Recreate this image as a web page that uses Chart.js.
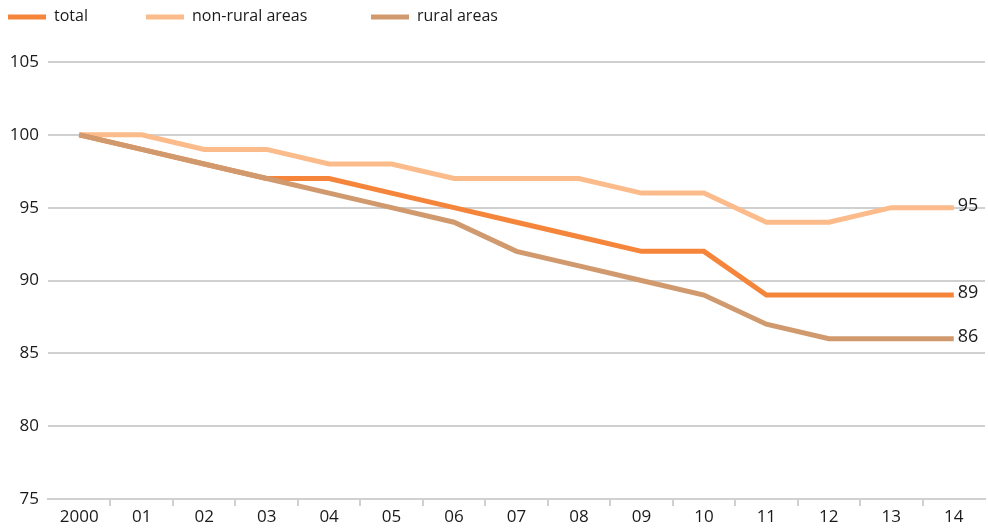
<!DOCTYPE html>
<html>
<head>
<meta charset="utf-8">
<script src="https://cdn.jsdelivr.net/npm/chart.js@4"></script>
<style>
  html, body { margin: 0; padding: 0; background: #fff; }
  #wrap { width: 988px; height: 528px; position: relative; }
</style>
</head>
<body>
<div id="wrap"><canvas id="indexChart" width="988" height="528"></canvas></div>
<script>
const years = ['2000', '01', '02', '03', '04', '05', '06', '07', '08', '09', '10', '11', '12', '13', '14'];
const totalValues = [100, 99, 98, 97, 97, 96, 95, 94, 93, 92, 92, 89, 89, 89, 89];
const nonRuralValues = [100, 100, 99, 99, 98, 98, 97, 97, 97, 96, 96, 94, 94, 95, 95];
const ruralValues = [100, 99, 98, 97, 96, 95, 94, 92, 91, 90, 89, 87, 86, 86, 86];
const seriesNames = ['total', 'non-rural areas', 'rural areas'];

const FONT = '"Open Sans", sans-serif';
const TEXT = '#1a1a1a';

// legend drawn by hand, the items are not evenly spaced in the original
const legendPos = [8, 146, 371];
const legendPlugin = {
    id: 'topLegend',
    afterDraw(chart) {
        const ctx = chart.ctx;
        ctx.save();
        ctx.font = '16px ' + FONT;
        ctx.textBaseline = 'middle';
        chart.data.datasets.forEach((ds, i) => {
            const x = legendPos[i];
            ctx.strokeStyle = ds.borderColor;
            ctx.lineWidth = 5;
            ctx.beginPath();
            ctx.moveTo(x, 17);
            ctx.lineTo(x + 38, 17);
            ctx.stroke();
            ctx.fillStyle = TEXT;
            ctx.fillText(ds.label, x + 46, 16);
        });
        ctx.restore();
    }
};

// value of the last point next to each line
const endLabelPlugin = {
    id: 'endLabels',
    afterDatasetsDraw(chart) {
        const ctx = chart.ctx;
        ctx.save();
        ctx.font = '18px ' + FONT;
        ctx.fillStyle = TEXT;
        ctx.textBaseline = 'middle';
        chart.data.datasets.forEach((ds, i) => {
            const meta = chart.getDatasetMeta(i);
            const last = meta.data[meta.data.length - 1];
            ctx.fillText(String(ds.data[ds.data.length - 1]), last.x + 4, last.y - 2);
        });
        ctx.restore();
    }
};

const ctx = document.getElementById('indexChart').getContext('2d');
new Chart(ctx, {
    type: 'line',
    data: {
        labels: years,
        datasets: [
            { label: seriesNames[0], data: totalValues, borderColor: '#f5853a', order: 2 },
            { label: seriesNames[1], data: nonRuralValues, borderColor: '#fbbb8a', order: 3 },
            { label: seriesNames[2], data: ruralValues, borderColor: '#d19a6e', order: 1 }
        ].map(d => Object.assign(d, { borderWidth: 5, pointRadius: 0, tension: 0, fill: false }))
    },
    options: {
        responsive: false,
        animation: false,
        layout: { padding: { top: 62, right: 3, left: 0, bottom: 0 } },
        plugins: { legend: { display: false }, tooltip: { enabled: false } },
        scales: {
            x: {
                offset: true,
                afterFit: s => { s.height = 29; },
                grid: {
                    offset: true,
                    drawOnChartArea: false,
                    tickLength: 7,
                    lineWidth: 2,
                    color: c => (c.index > 0 ? '#d0d0d0' : 'transparent')
                },
                border: { color: '#d0d0d0', width: 2 },
                ticks: { color: TEXT, font: { family: FONT, size: 17 }, padding: 1, maxRotation: 0, autoSkip: false }
            },
            y: {
                min: 75,
                max: 105,
                afterFit: s => { s.width = 48; },
                ticks: { stepSize: 5, color: TEXT, font: { family: FONT, size: 17 }, padding: 9 },
                grid: { color: '#d0d0d0', lineWidth: 2, drawTicks: false },
                border: { display: false }
            }
        }
    },
    plugins: [legendPlugin, endLabelPlugin]
});
</script>
</body>
</html>
